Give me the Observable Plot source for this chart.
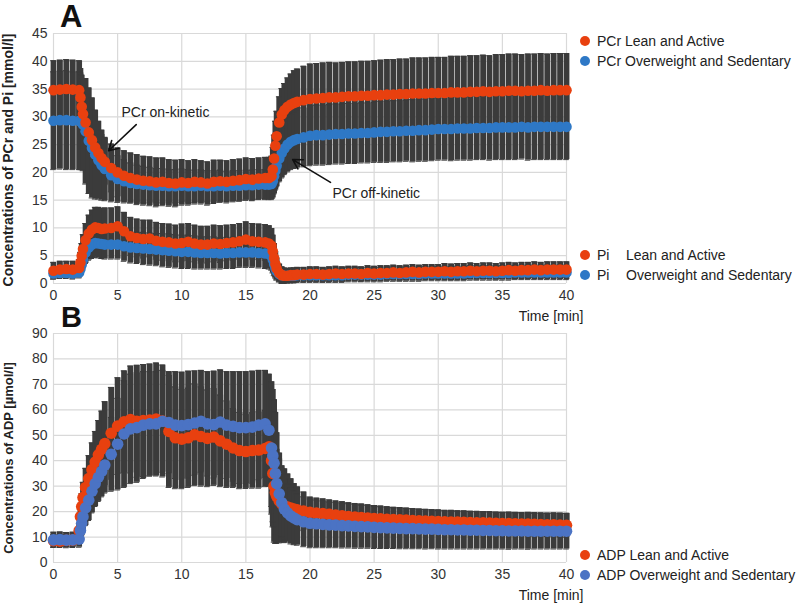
<!DOCTYPE html>
<html>
<head>
<meta charset="utf-8">
<script src="https://cdn.jsdelivr.net/npm/d3@7"></script>
<script src="https://cdn.jsdelivr.net/npm/@observablehq/plot@0.6"></script>
<style>
  body { margin: 0; background: #fff; }
  #wrap { position: relative; width: 799px; height: 603px; font-family: "Liberation Sans", Arial, sans-serif; }
  #wrap svg { position: absolute; left: 0; }
</style>
</head>
<body>
<div id="wrap"></div>
<script>
// time points [min]
const T = [
  0,0.5,1,1.5,2,2.1,2.2,2.3,2.5,2.75,3,3.25,3.5,3.75,4,
  4.5,5,5.5,6,6.5,7,7.5,8,8.5,9,9.5,10,10.5,11,11.5,12,12.5,13,13.5,14,14.5,15,15.5,16,16.5,
  16.8,17,17.1,17.2,17.3,17.4,17.6,17.8,18,
  18.25,18.5,18.75,19,19.5,20,
  20.5,21,21.5,22,22.5,23,23.5,24,24.5,25,25.5,26,26.5,27,27.5,28,28.5,29,29.5,30,30.5,31,31.5,32,32.5,33,33.5,34,34.5,35,35.5,36,36.5,37,37.5,38,38.5,39,39.5,40
]

// PCr [mmol/l]
const pcrLean = [
  34.8,34.9,35.0,34.9,34.8,33.5,31.8,30.5,29.0,27.2,25.8,24.5,23.5,22.6,21.9,
  20.8,20.0,19.4,19.0,18.7,18.5,18.4,18.2,18.3,18.1,18.0,18.2,18.1,18.3,18.2,18.0,18.3,18.4,18.3,18.5,18.6,18.8,18.7,18.9,19.0,
  19.0,19.3,20.5,22.5,24.8,26.5,29.0,30.4,31.2,
  31.8,32.2,32.5,32.7,33.0,33.2,
  33.3,33.4,33.5,33.5,33.6,33.7,33.7,33.8,33.8,33.9,33.9,34.0,34.0,34.1,34.1,34.2,34.2,34.2,34.3,34.3,
  34.3,34.4,34.4,34.4,34.5,34.5,34.6,34.5,34.6,34.6,34.7,34.7,34.6,34.7,34.7,34.8,34.7,34.8,34.8,34.8
]
const pcrLeanSD = [
  5.3,5.3,5.3,5.3,5.3,5.2,5.0,3.0,3.0,3.4,3.8,4.0,4.1,4.2,4.2,
  4.3,4.4,4.5,4.5,4.5,4.4,4.4,4.4,4.3,4.2,4.2,4.1,4.0,4.0,3.9,3.9,3.9,3.8,3.8,3.8,3.8,3.8,3.8,3.7,3.7,
  3.7,3.6,4.0,4.2,4.4,4.5,4.6,4.7,4.8,
  5.2,5.5,5.8,5.9,6.1,6.3,
  6.3,6.3,6.3,6.2,6.2,6.2,6.2,6.2,6.2,6.2,6.3,6.3,6.3,6.3,6.3,6.4,6.4,6.4,6.4,6.4,
  6.4,6.5,6.5,6.5,6.5,6.5,6.5,6.5,6.6,6.6,6.6,6.6,6.6,6.6,6.6,6.6,6.6,6.6,6.6,6.6
]
const pcrOver = [
  29.3,29.4,29.4,29.3,29.3,29.2,29.0,28.6,27.4,25.7,24.4,23.2,22.2,21.3,20.6,
  19.5,18.8,18.4,18.1,17.9,17.8,17.7,17.6,17.6,17.5,17.5,17.6,17.5,17.5,17.6,17.5,17.5,17.6,17.5,17.6,17.6,17.7,17.7,17.8,17.8,
  17.8,17.9,18.4,19.3,20.3,21.2,22.5,23.5,24.3,
  25.0,25.5,25.8,26.0,26.3,26.6,
  26.7,26.7,26.8,26.9,26.9,27.0,27.0,27.1,27.1,27.2,27.3,27.3,27.4,27.4,27.5,27.5,27.6,27.6,27.7,27.8,
  27.8,27.8,27.9,27.9,27.9,28.0,28.0,28.0,28.1,28.1,28.1,28.1,28.2,28.1,28.2,28.2,28.2,28.2,28.2,28.2
]
const pcrOverSD = [
  8.8,8.8,8.9,8.8,8.8,8.7,8.5,8.3,9.5,9.5,9.0,8.0,7.0,6.3,5.7,
  4.8,4.2,3.9,3.6,3.4,3.3,3.2,3.1,3.1,3.0,3.0,3.0,3.0,2.9,2.9,2.8,2.8,2.8,2.7,2.7,2.7,2.7,2.7,2.7,2.7,
  2.7,2.8,3.0,3.2,3.5,3.8,4.2,4.5,4.7,
  4.9,5.0,5.1,5.2,5.3,5.4,
  5.4,5.4,5.4,5.4,5.4,5.4,5.4,5.4,5.4,5.4,5.5,5.5,5.5,5.5,5.5,5.6,5.6,5.6,5.6,5.6,
  5.6,5.7,5.7,5.7,5.7,5.7,5.7,5.8,5.8,5.8,5.8,5.8,5.8,5.9,5.9,5.9,5.9,5.9,5.9,5.9
]

// Pi [mmol/l]
const piLean = [
  2.3,2.5,2.6,2.5,2.8,3.8,5.0,6.2,7.8,9.0,9.7,10.1,10.0,9.8,9.9,
  10.0,10.3,9.4,8.5,8.2,8.0,8.1,7.7,7.5,7.4,7.2,7.3,7.5,7.2,7.0,7.0,7.2,7.1,7.3,7.4,7.6,7.9,7.6,7.5,7.4,
  7.2,6.8,5.8,4.6,3.5,2.7,1.9,1.5,1.4,
  1.4,1.5,1.5,1.6,1.6,1.7,
  1.7,1.6,1.7,1.8,1.7,1.8,1.8,1.7,1.9,1.8,1.9,1.9,2.0,1.9,2.0,2.1,2.0,2.1,2.1,2.1,
  2.2,2.1,2.2,2.2,2.3,2.2,2.3,2.3,2.2,2.3,2.4,2.3,2.4,2.4,2.5,2.4,2.5,2.5,2.5,2.5
]
const piLeanSD = [
  1.5,1.5,1.4,1.5,1.5,1.8,2.2,2.6,3.0,3.3,3.5,3.6,3.7,3.7,3.7,
  3.6,3.5,3.4,3.4,3.4,3.4,3.3,3.3,3.3,3.3,3.3,3.4,3.3,3.3,3.3,3.3,3.3,3.3,3.2,3.2,3.2,3.2,3.2,3.2,3.2,
  3.2,3.1,2.9,2.6,2.2,1.9,1.6,1.5,1.4,
  1.3,1.3,1.3,1.3,1.3,1.3,
  1.3,1.3,1.3,1.3,1.3,1.3,1.3,1.3,1.3,1.3,1.3,1.3,1.3,1.3,1.3,1.3,1.3,1.3,1.3,1.3,
  1.4,1.4,1.4,1.4,1.4,1.4,1.4,1.4,1.4,1.4,1.4,1.4,1.4,1.4,1.4,1.4,1.4,1.4,1.4,1.4
]
const piOver = [
  1.8,1.9,1.9,1.8,2.0,2.6,3.4,4.3,5.6,6.5,7.0,7.3,7.2,7.1,7.0,
  7.0,7.0,6.7,6.5,6.4,6.3,6.2,6.1,6.0,5.9,5.8,5.7,5.7,5.6,5.5,5.5,5.5,5.4,5.5,5.5,5.6,5.6,5.6,5.5,5.4,
  5.3,5.0,4.3,3.5,2.8,2.2,1.7,1.5,1.4,
  1.4,1.4,1.4,1.5,1.5,1.5,
  1.5,1.5,1.5,1.5,1.5,1.6,1.6,1.6,1.6,1.6,1.6,1.7,1.7,1.7,1.7,1.7,1.7,1.8,1.8,1.8,
  1.8,1.8,1.8,1.8,1.9,1.9,1.9,1.9,1.9,1.9,1.9,2.0,2.0,2.0,2.0,2.0,2.0,2.0,2.0,2.0
]
const piOverSD = [
  1.0,1.0,1.0,1.0,1.0,1.1,1.3,1.6,2.0,2.3,2.5,2.6,2.6,2.6,2.6,
  2.6,2.6,2.7,2.8,2.8,2.9,2.9,2.9,3.0,3.0,3.0,3.0,3.0,3.0,2.9,2.9,2.9,2.8,2.8,2.8,2.7,2.7,2.7,2.7,2.7,
  2.7,2.6,2.4,2.1,1.8,1.6,1.4,1.3,1.3,
  1.3,1.3,1.3,1.3,1.3,1.3,
  1.3,1.3,1.3,1.3,1.3,1.3,1.3,1.3,1.3,1.3,1.3,1.3,1.3,1.3,1.3,1.3,1.3,1.3,1.3,1.3,
  1.3,1.3,1.3,1.3,1.3,1.3,1.3,1.3,1.3,1.3,1.3,1.3,1.3,1.3,1.3,1.3,1.3,1.3,1.3,1.3
]

// ADP [umol/l]
const adpLean = [
  8.6,8.4,8.7,8.8,12.5,18.0,22.0,25.5,29.5,33.0,36.5,39.5,42.3,44.5,46.7,
  50.8,53.6,55.3,56.2,55.5,55.8,56.0,56.4,55.6,51.5,49.0,48.5,49.0,50.2,49.5,48.8,49.3,47.8,46.5,45.0,44.0,43.6,44.0,44.2,44.8,
  45.5,40.0,35.0,30.0,27.5,26.0,24.2,23.0,22.3,
  21.8,21.4,21.0,20.7,20.2,19.7,
  19.4,19.2,18.9,18.6,18.4,18.1,17.9,17.7,17.5,17.3,17.2,17.0,16.9,16.8,16.7,16.5,16.4,16.3,16.2,16.1,
  16.0,15.9,15.9,15.8,15.7,15.6,15.6,15.5,15.4,15.3,15.3,15.2,15.1,15.1,15.0,14.9,14.8,14.8,14.7,14.6
]
const adpLeanSD = [
  2.5,2.5,2.5,2.5,2.8,4.0,5.0,6.0,7.5,9.0,10.5,12.0,13.5,15.0,16.5,
  18,19,20,21,22,22,22,22,22,22,20,19.5,19.5,20,19.5,19,19,18,17,15.5,15,14.5,14.8,15,15,
  15.5,18,21,22,20,18.5,16.5,15,14.5,
  13,11.5,10,9,7.5,6.0,
  5.9,5.8,5.7,5.6,5.5,5.4,5.3,5.3,5.2,5.1,5.0,4.9,4.8,4.8,4.7,4.6,4.5,4.5,4.4,4.3,
  4.3,4.3,4.3,4.3,4.4,4.4,4.4,4.4,4.4,4.4,4.5,4.5,4.5,4.6,4.6,4.6,4.6,4.7,4.7,4.7
]
const adpOver = [
  8.9,9.0,8.8,8.9,9.2,12.6,15.5,18.0,21.5,24.5,28.0,31.0,33.5,35.8,38.3,
  42.5,46.5,50.5,52.5,53.0,54.0,54.5,54.5,55.5,55.0,54.0,53.8,54.2,54.8,55.5,54.5,54.2,55.2,54.0,53.5,53.0,53.0,53.2,54.0,54.5,
  52.0,45.0,42.0,39.0,35.0,31.0,27.0,23.5,21.0,
  19.5,18.3,17.5,16.8,16.0,15.4,
  15.2,15.0,14.8,14.7,14.5,14.4,14.2,14.1,14.0,13.8,13.7,13.6,13.5,13.4,13.3,13.3,13.2,13.1,13.1,13.0,
  12.9,12.9,12.8,12.8,12.7,12.7,12.6,12.6,12.5,12.5,12.4,12.4,12.4,12.3,12.3,12.3,12.3,12.3,12.3,12.3
]
const adpOverSD = [
  3.0,3.0,3.0,3.0,3.2,4.0,5.0,6.0,7.0,8.0,8.5,9.0,9.5,10.0,11.0,
  14.5,18,21,21.5,21.5,21,20.5,20.5,20,20,21,21,21,20.5,20,20.5,21,20.5,21,21.5,22,22,22,21.5,21,
  22,26,26,25,24,20,16,13.5,12,
  11.5,11,10.5,10,9.8,9.6,
  9.4,9.2,9.0,8.9,8.8,8.7,8.6,8.5,8.4,8.3,8.2,8.1,8.0,8.0,7.9,7.9,7.8,7.8,7.7,7.7,
  7.6,7.6,7.5,7.5,7.4,7.4,7.3,7.3,7.2,7.2,7.2,7.1,7.1,7.1,7.0,7.0,7.0,7.0,7.0,7.0
]

// ticks
const xTicks = [0,5,10,15,20,25,30,35,40]
const yTicksA = [0,5,10,15,20,25,30,35,40,45]
const yTicksB = [0,10,20,30,40,50,60,70,80,90]

// annotations (panel A, data units)
const annotLabels = ["PCr on-kinetic", "PCr off-kinetic"]
const annotTextX = [5.3, 21.75]
const annotTextY = [30.8, 16.2]
const arrowFromX = [6.45, 21.6]
const arrowFromY = [28.6, 18.2]
const arrowToX = [4.3, 18.65]
const arrowToY = [23.9, 22.3]

// legends
const legendPCr = ["PCr Lean and Active", "PCr Overweight and Sedentary"]
const legendPi = [["Pi", "Lean and Active"], ["Pi", "Overweight and Sedentary"]]
const legendADP = ["ADP Lean and Active", "ADP Overweight and Sedentary"]

const red = "#e8400f"
const blueA = "#2e78c6"
const blueB = "#4b73c4"
const barColor = "#3b3b3b"
const gridColor = "#d9d9d9"
const font = "'Liberation Sans', Arial, sans-serif"

const rows = (vals, sds) => T.map((t, i) => ({t, v: vals[i], sd: sds[i]}))

function errorMarks(data) {
  return [
    Plot.ruleX(data, {x: "t", y1: d => d.v - d.sd, y2: d => d.v + d.sd, stroke: barColor, strokeWidth: 5.8}),
    Plot.ruleY(data, {y: d => d.v + d.sd, x1: d => d.t - 0.22, x2: d => d.t + 0.22, stroke: barColor, strokeWidth: 1}),
    Plot.ruleY(data, {y: d => d.v - d.sd, x1: d => d.t - 0.22, x2: d => d.t + 0.22, stroke: barColor, strokeWidth: 1})
  ]
}

function panel(yTicks, height, marginBottom, marks) {
  return Plot.plot({
    width: 799,
    height: height,
    marginLeft: 53,
    marginRight: 233,
    marginTop: 33,
    marginBottom: marginBottom,
    x: {domain: [0, 40], ticks: xTicks, tickSize: 0, tickPadding: 7, label: null},
    y: {domain: [0, yTicks[yTicks.length - 1]], ticks: yTicks, tickSize: 0, tickPadding: 6, label: null},
    style: {fontFamily: font, fontSize: "14px", color: "#333", background: "transparent", overflow: "visible"},
    marks: [
      Plot.ruleX(xTicks, {x: d => d, stroke: gridColor, strokeWidth: 1.2}),
      Plot.ruleY(yTicks, {y: d => d, stroke: gridColor, strokeWidth: 1.2}),
      ...marks,
      Plot.text(["Time [min]"], {text: d => d, frameAnchor: "bottom-right", dx: 17, dy: 33,
        textAnchor: "end", lineAnchor: "middle", fontSize: 14, fill: "#222"})
    ]
  })
}

const pcrL = rows(pcrLean, pcrLeanSD), pcrO = rows(pcrOver, pcrOverSD)
const piL = rows(piLean, piLeanSD), piO = rows(piOver, piOverSD)
const adpL = rows(adpLean, adpLeanSD), adpO = rows(adpOver, adpOverSD)

const annots = annotLabels.map((label, i) => ({
  label, tx: annotTextX[i], ty: annotTextY[i],
  x1: arrowFromX[i], y1: arrowFromY[i], x2: arrowToX[i], y2: arrowToY[i]
}))

const chartA = panel(yTicksA, 325, 42, [
  ...errorMarks(pcrL), ...errorMarks(pcrO), ...errorMarks(piL), ...errorMarks(piO),
  Plot.dot(pcrO, {x: "t", y: "v", r: 5.3, fill: blueA}),
  Plot.dot(pcrL, {x: "t", y: "v", r: 5.3, fill: red}),
  Plot.dot(piO, {x: "t", y: "v", r: 5.3, fill: blueA}),
  Plot.dot(piL, {x: "t", y: "v", r: 5.3, fill: red}),
  Plot.arrow(annots, {x1: "x1", y1: "y1", x2: "x2", y2: "y2", stroke: "#111", strokeWidth: 1.6, headLength: 10}),
  Plot.text(annots, {x: "tx", y: "ty", text: "label", textAnchor: "start", lineAnchor: "middle", fontSize: 14, fill: "#222"})
])

const chartB = panel(yTicksB, 303, 41, [
  ...errorMarks(adpL), ...errorMarks(adpO),
  Plot.dot(adpL, {x: "t", y: "v", r: 5.8, fill: red}),
  Plot.dot(adpO, {x: "t", y: "v", r: 5.8, fill: blueB})
])

const wrap = document.getElementById("wrap")
chartA.style.top = "0px"
chartB.style.top = "300px"
wrap.appendChild(chartA)
wrap.appendChild(chartB)

// letters, axis titles and legends on top
const over = d3.select(wrap).append("svg")
  .attr("width", 799).attr("height", 603)
  .style("top", "0px").style("pointer-events", "none")
  .style("font-family", font)

over.append("text").attr("x", 60).attr("y", 27).attr("font-size", 31).attr("font-weight", "bold").attr("fill", "#111").text("A")
over.append("text").attr("x", 61).attr("y", 327).attr("font-size", 29).attr("font-weight", "bold").attr("fill", "#111").text("B")

over.append("text").attr("transform", "translate(8,160) rotate(-90)")
  .attr("text-anchor", "middle").attr("dominant-baseline", "central")
  .attr("font-size", 14).attr("font-weight", "bold").attr("fill", "#222")
  .text("Concentrations of PCr and Pi [mmol/l]")
over.append("text").attr("transform", "translate(8,458) rotate(-90)")
  .attr("text-anchor", "middle").attr("dominant-baseline", "central")
  .attr("font-size", 13).attr("font-weight", "bold").attr("fill", "#222")
  .text("Concentrations of ADP [\u00b5mol/l]")

function legend(items, colors, y0) {
  items.forEach((item, i) => {
    const y = y0 + i * 20
    over.append("circle").attr("cx", 585).attr("cy", y).attr("r", 5).attr("fill", colors[i])
    const parts = Array.isArray(item) ? item : [item]
    parts.forEach((p, j) => {
      over.append("text").attr("x", j === 0 ? 597 : 626).attr("y", y)
        .attr("dominant-baseline", "central").attr("font-size", 14).attr("fill", "#222").text(p)
    })
  })
}
legend(legendPCr, [red, blueA], 41)
legend(legendPi, [red, blueA], 255)
legend(legendADP, [red, blueB], 555)
</script>
</body>
</html>
